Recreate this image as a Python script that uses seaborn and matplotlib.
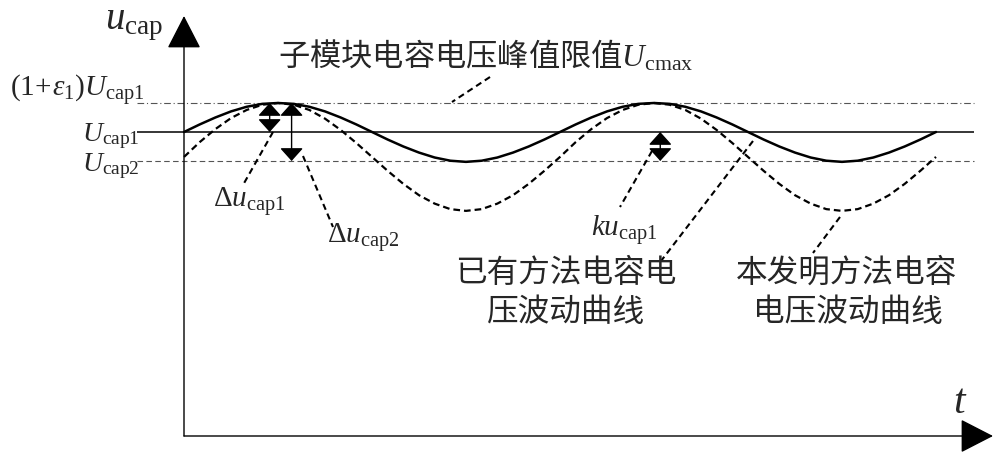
import matplotlib
matplotlib.use("Agg")
import matplotlib.pyplot as plt
import seaborn as sns
import pandas as pd

# ---------------- data ----------------
# phase in degrees (one period = 360 deg)
phase_deg = [0, 15, 30, 45, 60, 75, 90, 105, 120, 135, 150, 165, 180,
             195, 210, 225, 240, 255, 270, 285, 300, 315, 330, 345, 360,
             375, 390, 405, 420, 435, 450, 465, 480, 495, 510, 525, 540,
             555, 570, 585, 600, 615, 630, 645, 660, 675, 690, 705, 720]
# proposed method capacitor voltage (solid)
solid_curve = [1.000, 1.026, 1.050, 1.071, 1.087, 1.097, 1.100, 1.097, 1.087, 1.071, 1.050, 1.026, 1.000,
               0.974, 0.950, 0.929, 0.912, 0.901, 0.897, 0.901, 0.912, 0.929, 0.950, 0.974, 1.000,
               1.026, 1.050, 1.071, 1.087, 1.097, 1.100, 1.097, 1.087, 1.071, 1.050, 1.026, 1.000,
               0.974, 0.950, 0.929, 0.912, 0.901, 0.897, 0.901, 0.912, 0.929, 0.950, 0.974, 1.000]
# existing method capacitor voltage (dashed)
dashed_curve = [0.914, 0.965, 1.010, 1.048, 1.076, 1.094, 1.100, 1.094, 1.076, 1.046, 1.007, 0.962, 0.914,
                0.866, 0.821, 0.782, 0.753, 0.734, 0.728, 0.734, 0.753, 0.782, 0.821, 0.866, 0.914,
                0.965, 1.010, 1.048, 1.076, 1.094, 1.100, 1.094, 1.076, 1.046, 1.007, 0.962, 0.914,
                0.866, 0.821, 0.782, 0.753, 0.734, 0.728, 0.734, 0.753, 0.782, 0.821, 0.866, 0.914]
U_cap1 = 1.0
U_cmax = 1.1          # (1+eps1) U_cap1
U_cap2 = 0.9
arrow_phase = {"du1": 82, "du2": 103, "k": 456}

# ---------------- style ----------------
sns.set_theme(style="white")
plt.rcParams["font.family"] = ["Noto Sans CJK SC", "DejaVu Sans"]
plt.rcParams["mathtext.fontset"] = "custom"
plt.rcParams["mathtext.rm"] = "Liberation Serif"
plt.rcParams["mathtext.it"] = "Liberation Serif:italic"
plt.rcParams["mathtext.bf"] = "Liberation Serif:bold"

W, H = 1000, 464
fig = plt.figure(figsize=(W / 100, H / 100), dpi=100)
ax = fig.add_axes([0, 0, 1, 1])
ax.set_xlim(-176.2, 781.3)
ax.set_ylim(-0.1414, 1.4586)
ax.axis("off")


def P(x, y):
    return (x / W, 1 - y / H)


df = pd.DataFrame({"phase": phase_deg, "solid": solid_curve, "dashed": dashed_curve})

# reference levels
ax.hlines(U_cmax, -45, 756, colors="#555555", lw=0.8, linestyles=(0, (6, 2.5, 1, 2.5)))
ax.hlines(U_cap1, -45, 756, colors="black", lw=1.1)
ax.hlines(U_cap2, -45, 756, colors="#555555", lw=0.8, linestyles=(0, (5, 3)))

# curves
sns.lineplot(data=df, x="phase", y="solid", ax=ax, color="black", lw=1.8, legend=False)
sns.lineplot(data=df, x="phase", y="dashed", ax=ax, color="black", lw=1.6,
             dashes=False, linestyle=(0, (3, 1.8)), legend=False)

# axes with arrows
ax_style = dict(arrowstyle="-|>,head_length=21,head_width=10.8", mutation_scale=1,
                lw=1.0, color="black", shrinkA=0, shrinkB=0)
ax.annotate("", xy=P(184, 17), xytext=P(184, 437), xycoords="figure fraction",
            textcoords="figure fraction", arrowprops=ax_style)
ax.annotate("", xy=P(993, 437), xytext=P(184, 437), xycoords="figure fraction",
            textcoords="figure fraction", arrowprops=ax_style)

# double arrows
dbl = dict(arrowstyle="<|-|>,head_length=8,head_width=7.2", mutation_scale=1,
           lw=1.0, color="black", shrinkA=0, shrinkB=0)
ax.annotate("", xy=(arrow_phase["du1"], U_cap1), xytext=(arrow_phase["du1"], U_cmax), arrowprops=dbl)
ax.annotate("", xy=(arrow_phase["du2"], U_cap2), xytext=(arrow_phase["du2"], U_cmax), arrowprops=dbl)
ax.annotate("", xy=(arrow_phase["k"], U_cap2), xytext=(arrow_phase["k"], U_cap1), arrowprops=dbl)

# leader lines
leaders = [((490, 78), (452, 103)),
           ((273, 133), (243, 186)),
           ((303, 157), (333, 228)),
           ((652, 152), (620, 208)),
           ((753, 142), (661, 262)),
           ((840, 218), (813, 254))]
for (x0, y0), (x1, y1) in leaders:
    a, b = P(x0, y0), P(x1, y1)
    ax.plot([a[0], b[0]], [a[1], b[1]], transform=fig.transFigure, color="black",
            lw=1.5, linestyle=(0, (3, 2)))

# texts
ms = 21
fig.text(*P(105, 29), r"$u_{\mathrm{cap}}$", fontsize=28, ha="left", va="baseline")
fig.text(*P(10, 97), r"$(1\!+\!\varepsilon_1)U_{\mathrm{cap1}}$", fontsize=ms, ha="left", va="baseline")
fig.text(*P(82, 141), r"$U_{\mathrm{cap1}}$", fontsize=20, ha="left", va="baseline")
fig.text(*P(82, 171), r"$U_{\mathrm{cap2}}$", fontsize=20, ha="left", va="baseline")
fig.text(*P(213, 207), r"$\Delta u_{\mathrm{cap1}}$", fontsize=ms, ha="left", va="baseline")
fig.text(*P(327, 243), r"$\Delta u_{\mathrm{cap2}}$", fontsize=ms, ha="left", va="baseline")
fig.text(*P(658, 236), r"$ku_{\mathrm{cap1}}$", fontsize=ms, ha="right", va="baseline")
fig.text(*P(960, 413), r"$t$", fontsize=30, ha="center", va="baseline")
fig.text(*P(278, 56), r"子模块电容电压峰值限值$U_{\mathrm{cmax}}$", fontsize=22.5, ha="left", va="center")
fig.text(*P(566, 273), "已有方法电容电", fontsize=22.8, ha="center", va="center")
fig.text(*P(566, 312), "压波动曲线", fontsize=22.8, ha="center", va="center")
fig.text(*P(847, 273), "本发明方法电容", fontsize=22.8, ha="center", va="center")
fig.text(*P(848, 312), "电压波动曲线", fontsize=22.8, ha="center", va="center")

fig.savefig("out.png", dpi=100, facecolor="white")
